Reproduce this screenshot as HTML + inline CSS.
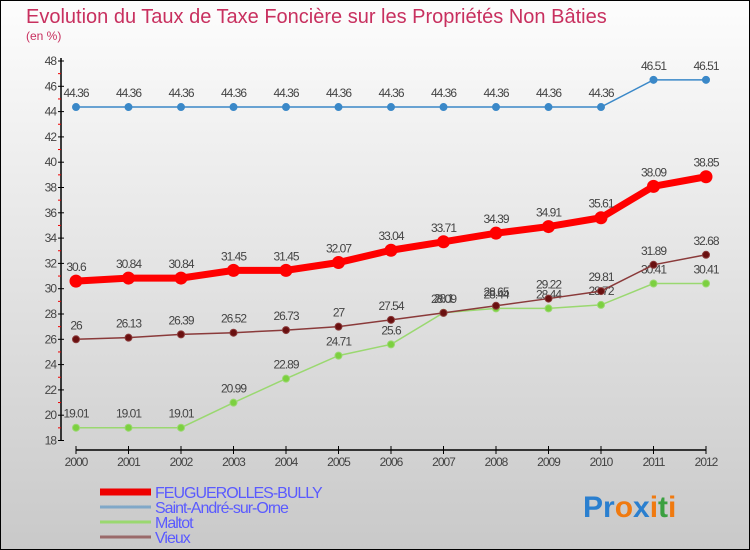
<!DOCTYPE html>
<html><head><meta charset="utf-8"><style>
body{margin:0}
svg{display:block;font-family:"Liberation Sans",sans-serif}
</style></head><body>
<svg width="750" height="550" xmlns="http://www.w3.org/2000/svg">
<defs><linearGradient id="bg" x1="0" y1="0" x2="0" y2="1"><stop offset="0" stop-color="#fdfdfd"/><stop offset="1" stop-color="#c9c9c9"/></linearGradient></defs>
<rect x="0.5" y="0.5" width="749" height="549" fill="url(#bg)" stroke="#000"/>
<text x="26" y="23" font-size="20" fill="#c8305f">Evolution du Taux de Taxe Foncière sur les Propriétés Non Bâties</text>
<text x="26" y="40" font-size="12" fill="#c8305f">(en %)</text>
<g id="axes"></g><g id="series"></g><g id="legend"></g>
<text x="583" y="517" font-size="30" font-weight="bold"><tspan fill="#2a7fcf">Pr</tspan><tspan fill="#f07a10">o</tspan><tspan fill="#2a7fcf">x</tspan><tspan fill="#f07a10">i</tspan><tspan fill="#3aa040">t</tspan><tspan fill="#f07a10">i</tspan></text>
</svg>
<script>
const years=[2000,2001,2002,2003,2004,2005,2006,2007,2008,2009,2010,2011,2012];
const feug=[30.6,30.84,30.84,31.45,31.45,32.07,33.04,33.71,34.39,34.91,35.61,38.09,38.85];
const saint=[44.36,44.36,44.36,44.36,44.36,44.36,44.36,44.36,44.36,44.36,44.36,46.51,46.51];
const maltot=[19.01,19.01,19.01,20.99,22.89,24.71,25.6,28.1,28.44,28.44,28.72,30.41,30.41];
const vieux=[26,26.13,26.39,26.52,26.73,27,27.54,28.09,28.65,29.22,29.81,31.89,32.68];
const yTicks=[18,20,22,24,26,28,30,32,34,36,38,40,42,44,46,48];
const NS="http://www.w3.org/2000/svg";
const X=i=>76+i*52.5, Y=v=>61+(48-v)*12.65;
function mk(t,a,p){const e=document.createElementNS(NS,t);for(const k in a)e.setAttribute(k,a[k]);p.appendChild(e);return e;}
const ax=document.getElementById('axes');
let e=mk('line',{x1:61,y1:58,x2:61,y2:441,stroke:'#000','stroke-width':1.5},ax);

yTicks.forEach(v=>{mk('line',{x1:58,x2:64,y1:Y(v),y2:Y(v),stroke:'#000'},ax);
 if(v<48)mk('line',{x1:58,x2:61,y1:Y(v+1),y2:Y(v+1),stroke:'#e00'},ax);
 const t=mk('text',{x:56,y:Y(v)+4,'font-size':12,'text-anchor':'end',fill:'#444','letter-spacing':'-1'},ax);t.textContent=v;
 });
e=mk('line',{x1:76,y1:450,x2:706,y2:450,stroke:'#000','stroke-width':1.5},ax);

years.forEach((y,i)=>{mk('line',{x1:X(i),x2:X(i),y1:446,y2:454,stroke:'#000'},ax);
 const t=mk('text',{x:X(i),y:466,'font-size':12,'text-anchor':'middle',fill:'#444','letter-spacing':'-1'},ax);t.textContent=y;
 });
const sg=document.getElementById('series');
function series(name,data,col,w,r,fill){
 const g=mk('g',{},sg);
 mk('polyline',{points:data.map((v,i)=>X(i)+','+Y(v)).join(' '),fill:'none',stroke:col,'stroke-width':w},g);
 data.forEach((v,i)=>{const c=mk('circle',{cx:X(i),cy:Y(v),r:r,fill:fill,stroke:col},g);
  
  const t=mk('text',{x:X(i),y:Y(v)-10,'font-size':12,'text-anchor':'middle',fill:'#444','letter-spacing':'-1'},g);
  t.textContent=String(v);});
}
series('saint-andre',saint,'#3a88c8',1.5,3.5,'#3a88c8');
series('maltot',maltot,'#9ad870',1.5,3.5,'#7cd040');
series('vieux',vieux,'#8a3a3a',1.5,3.5,'#6a1010');
series('feugerolles',feug,'#ff0000',7,6,'#ff0000');
const lg=document.getElementById('legend');
const items=[['FEUGUEROLLES-BULLY','#e00',7],['Saint-André-sur-Orne','#80a8c8',3],['Maltot','#9ad870',3],['Vieux','#9a6a6a',3]];
items.forEach((it,k)=>{const y=492+k*15;
 const g=mk('g',{},lg);
 mk('line',{x1:100,x2:151,y1:y,y2:y,stroke:it[1],'stroke-width':it[2]},g);
 const t=mk('text',{x:155,y:y+6,'font-size':16,fill:'#5a5aff','letter-spacing':'-1'},g);t.textContent=it[0];});
</script>
</body></html>
